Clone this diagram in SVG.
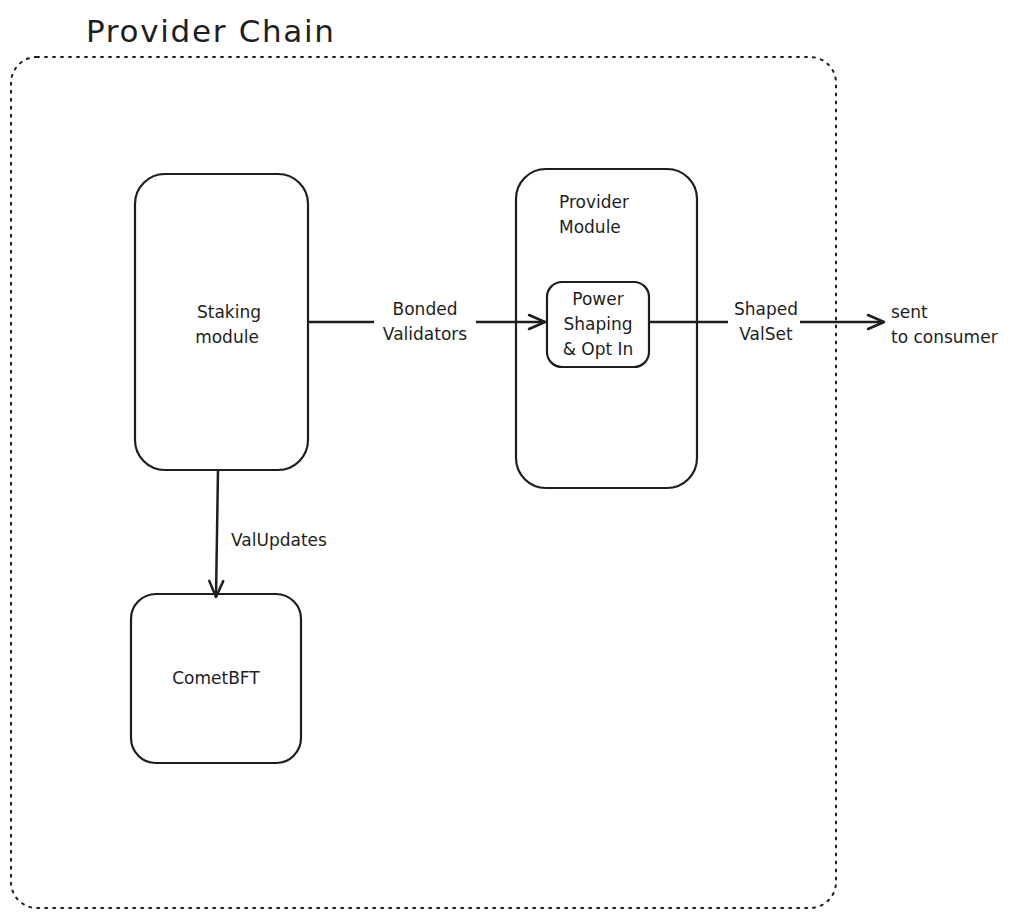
<svg xmlns="http://www.w3.org/2000/svg" width="1018" height="919" viewBox="0 0 1018 919">
<style>
.box{fill:#fff;stroke:#1e1e1e;stroke-width:2.2}
.t{font-family:"DejaVu Sans","Liberation Sans",sans-serif;font-size:17px;fill:#1e1e1e}
.c{text-anchor:middle}
.edge{fill:none;stroke:#1e1e1e;stroke-width:2.5}
</style>
<defs>
<marker id="arr" viewBox="0 0 20 20" refX="18" refY="10" markerWidth="20" markerHeight="20" markerUnits="userSpaceOnUse" orient="auto">
<path d="M2 3 L18 10 L2 17" fill="none" stroke="#1e1e1e" stroke-width="2.5" stroke-linecap="round" stroke-linejoin="round"/>
</marker>
</defs>
<rect width="1018" height="919" fill="#fff"/>
<g id="provider-chain">
<rect x="11" y="57" width="825" height="851" rx="26" fill="none" stroke="#1e1e1e" stroke-width="2" stroke-dasharray="2 6" stroke-linecap="round"/>
<text x="86" y="42" font-family="DejaVu Sans, sans-serif" font-size="31" fill="#1e1e1e" textLength="248">Provider Chain</text>
</g>
<g id="staking-module">
<rect class="box" x="135" y="174" width="173" height="296" rx="30"/>
<text class="t c" x="229" y="318">Staking</text>
<text class="t c" x="227" y="343">module</text>
</g>
<g id="provider-module">
<rect class="box" x="516" y="169" width="181" height="319" rx="30"/>
<text class="t" x="559" y="208">Provider</text>
<text class="t" x="559" y="233">Module</text>
</g>
<g id="power-shaping">
<rect class="box" x="547" y="282" width="102" height="85" rx="15"/>
<text class="t c" x="598" y="305">Power</text>
<text class="t c" x="598" y="330">Shaping</text>
<text class="t c" x="598" y="355">&amp; Opt In</text>
</g>
<g id="cometbft">
<rect class="box" x="131" y="594" width="170" height="169" rx="25"/>
<text class="t c" x="216" y="684">CometBFT</text>
</g>
<g id="consumer">
<text class="t" x="891" y="318">sent</text>
<text class="t" x="891" y="343">to consumer</text>
</g>
<g id="connectors">
<path class="edge" d="M308 322 H374"/>
<path class="edge" d="M476 322 H545" marker-end="url(#arr)"/>
<path class="edge" d="M649 322 H728"/>
<path class="edge" d="M800 322 H884" marker-end="url(#arr)"/>
<path class="edge" d="M218 470 L216 597" marker-end="url(#arr)"/>
<text class="t c" x="425" y="315">Bonded</text>
<text class="t c" x="425" y="340">Validators</text>
<text class="t c" x="766" y="315">Shaped</text>
<text class="t c" x="766" y="340">ValSet</text>
<text class="t" x="231" y="546">ValUpdates</text>
</g>
</svg>
